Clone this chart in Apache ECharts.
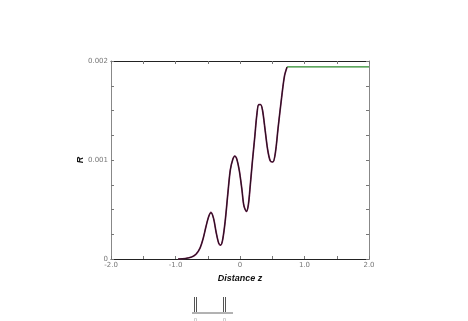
<!DOCTYPE html>
<html>
<head>
<meta charset="utf-8">
<script src="https://cdn.jsdelivr.net/npm/echarts@6/dist/echarts.min.js"></script>
<style>html,body{margin:0;padding:0;background:#fff;}#c{width:468px;height:321px;}</style>
</head>
<body>
<div id="c"></div>
<script>
// Curve (reflectivity R vs distance z)
const zCurve = [-0.96,-0.85,-0.75,-0.68,-0.62,-0.57,-0.53,-0.49,-0.45,-0.41,-0.37,-0.33,-0.30,-0.27,-0.23,-0.19,-0.15,-0.11,-0.08,-0.05,-0.01,0.03,0.06,0.10,0.13,0.16,0.19,0.23,0.26,0.29,0.32,0.35,0.39,0.43,0.47,0.51,0.55,0.59,0.645,0.69,0.73];
const rCurve = [0,0.000005,0.00002,0.00005,0.00011,0.00021,0.00032,0.00042,0.00047,0.00041,0.00027,0.00016,0.00014,0.00019,0.00038,0.00065,0.00090,0.00101,0.00104,0.00101,0.00089,0.00070,0.00054,0.00048,0.00055,0.00075,0.00097,0.00124,0.00145,0.00156,0.00156,0.00150,0.00130,0.00110,0.00099,0.00098,0.00108,0.00132,0.00163,0.00185,0.00194];
// Plateau (green)
const zPlateau = [0.73, 2.0];
const rPlateau = [0.00194, 0.00194];
// Tick labels
const xTickValues = [-2, -1, 0, 1, 2];
const xTickLabels = ['-2.0', '-1.0', '0', '1.0', '2.0'];
const yTickValues = [0, 0.001, 0.002];
const yTickLabels = ['0', '0.001', '0.002'];

function lookup(v, vals, labels) {
  for (let i = 0; i < vals.length; i++) {
    if (Math.abs(v - vals[i]) < 1e-9) return labels[i];
  }
  return '';
}

const chart = echarts.init(document.getElementById('c'), null, {renderer: 'canvas'});
const labelStyle = {color: '#777', fontSize: 7, fontFamily: 'DejaVu Sans'};
const tick = {show: true, inside: true, length: 3, lineStyle: {color: '#777', width: 1}};
chart.setOption({
  animation: false,
  backgroundColor: '#fff',
  grid: {left: 111, right: 99, top: 61, bottom: 62},
  xAxis: [{
    type: 'value', min: -2, max: 2, interval: 0.5, position: 'bottom',
    name: 'Distance z', nameLocation: 'middle', nameGap: 15, nameMoveOverlap: false,
    nameTextStyle: {color: '#111', fontSize: 9, fontWeight: 'bold', fontStyle: 'italic', fontFamily: 'Liberation Sans'},
    axisLine: {show: true, onZero: false, lineStyle: {color: '#222', width: 1}},
    axisTick: tick,
    axisLabel: {...labelStyle, margin: 3, formatter: v => lookup(v, xTickValues, xTickLabels)},
    splitLine: {show: false}
  }, {
    type: 'value', min: -2, max: 2, interval: 0.5, position: 'top',
    axisLine: {show: true, onZero: false, lineStyle: {color: '#222', width: 1}},
    axisTick: tick, axisLabel: {show: false}, splitLine: {show: false}
  }],
  yAxis: [{
    type: 'value', min: 0, max: 0.002, interval: 0.00025, position: 'left',
    name: 'R', nameLocation: 'middle', nameGap: 26, nameRotate: 90, nameMoveOverlap: false,
    nameTextStyle: {color: '#111', fontSize: 9, fontWeight: 'bold', fontStyle: 'italic', fontFamily: 'Liberation Sans'},
    axisLine: {show: true, onZero: false, lineStyle: {color: '#888', width: 1}},
    axisTick: tick,
    axisLabel: {...labelStyle, margin: 3, formatter: v => lookup(v, yTickValues, yTickLabels)},
    splitLine: {show: false}
  }, {
    type: 'value', min: 0, max: 0.002, interval: 0.00025, position: 'right',
    axisLine: {show: true, onZero: false, lineStyle: {color: '#888', width: 1}},
    axisTick: tick, axisLabel: {show: false}, splitLine: {show: false}
  }],
  series: [{
    type: 'line', smooth: 0.3, showSymbol: false,
    data: zCurve.map((z, i) => [z, rCurve[i]]),
    lineStyle: {color: '#7a2a5a', width: 1.7}
  }, {
    type: 'line', smooth: 0.3, showSymbol: false,
    data: zCurve.map((z, i) => [z, rCurve[i]]),
    lineStyle: {color: '#1a0a14', width: 0.9}
  }, {
    type: 'line', showSymbol: false,
    data: zPlateau.map((z, i) => [z, rPlateau[i]]),
    lineStyle: {color: '#2a8a2a', width: 1.2}
  }],
  graphic: [
    {type: 'line', shape: {x1: 192, y1: 313, x2: 233, y2: 313}, style: {stroke: '#666', lineWidth: 1}},
    {type: 'line', shape: {x1: 194.5, y1: 297, x2: 194.5, y2: 312}, style: {stroke: '#555', lineWidth: 1}},
    {type: 'line', shape: {x1: 196.5, y1: 297, x2: 196.5, y2: 312}, style: {stroke: '#555', lineWidth: 1}},
    {type: 'line', shape: {x1: 223.5, y1: 297, x2: 223.5, y2: 312}, style: {stroke: '#555', lineWidth: 1}},
    {type: 'line', shape: {x1: 225.5, y1: 297, x2: 225.5, y2: 312}, style: {stroke: '#555', lineWidth: 1}},
    {type: 'text', x: 195.5, y: 317, style: {text: 'n', fill: '#999', fontSize: 5, textAlign: 'center', fontFamily: 'DejaVu Sans'}},
    {type: 'text', x: 224.5, y: 317, style: {text: 'n', fill: '#999', fontSize: 5, textAlign: 'center', fontFamily: 'DejaVu Sans'}}
  ]
});
</script>
</body>
</html>
